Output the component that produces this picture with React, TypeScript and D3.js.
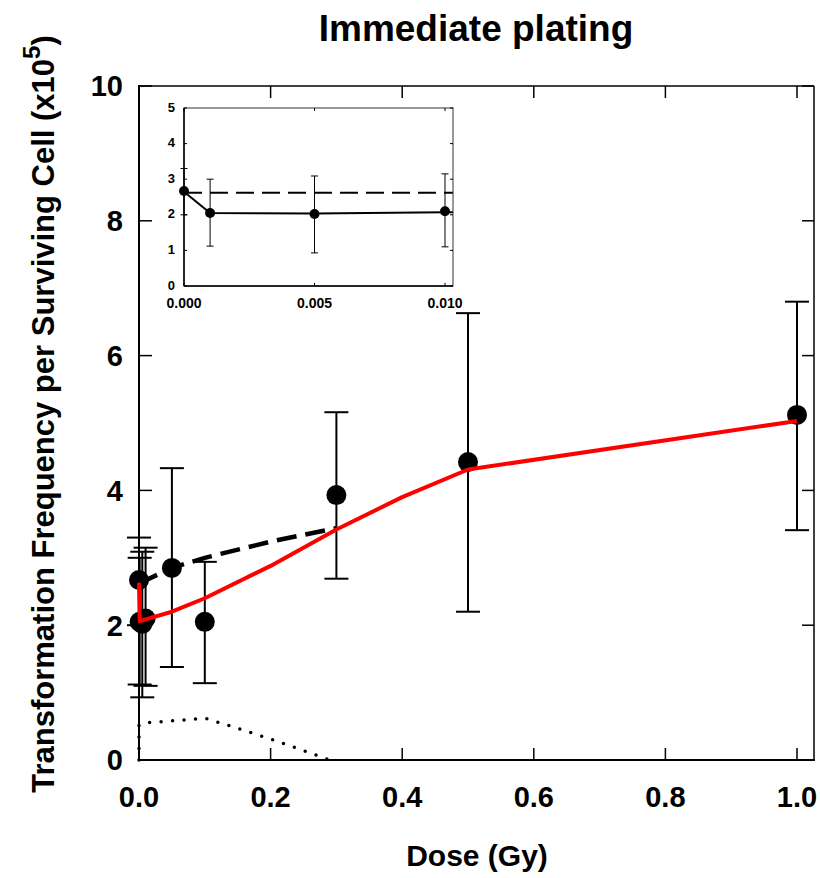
import React from 'react';
import * as d3 from 'd3';

const doses = [0, 0.001, 0.005, 0.01, 0.05, 0.1, 0.3, 0.5, 1.0];
const freq = [2.67, 2.05, 2.02, 2.1, 2.85, 2.05, 3.93, 4.42, 5.12];
const errHi = [3.3, 3.0, 3.09, 3.15, 4.33, 2.94, 5.16, 6.63, 6.8];
const errLo = [2.0, 1.12, 0.93, 1.1, 1.38, 1.14, 2.69, 2.2, 3.41];

const dashedDose = [0, 0.05, 0.1, 0.2, 0.3];
const dashedVal = [2.62, 2.85, 3.0, 3.24, 3.44];

const redDose = [0, 0.001, 0.05, 0.1, 0.2, 0.3, 0.4, 0.5, 1.0];
const redVal = [2.63, 2.06, 2.2, 2.4, 2.88, 3.42, 3.9, 4.31, 5.03];

const dottedDose = [0, 0, 0.01, 0.05, 0.1, 0.15, 0.2, 0.25, 0.29];
const dottedVal = [0, 0.52, 0.55, 0.58, 0.62, 0.47, 0.31, 0.14, 0];

const insetDashedDose = [0, 0.0103];
const insetDashedVal = [2.62, 2.62];
const insetSolidDose = [0, 0.001, 0.005, 0.01, 0.0103];
const insetSolidVal = [2.65, 2.05, 2.04, 2.07, 2.07];

const xTicks = [0, 0.2, 0.4, 0.6, 0.8, 1.0];
const yTicks = [0, 2, 4, 6, 8, 10];
const insetXTicks = [0, 0.005, 0.01];
const insetYTicks = [0, 1, 2, 3, 4, 5];

const FONT = "'Liberation Sans', Arial, Helvetica, sans-serif";

export default function App() {
  const x = d3.scaleLinear().domain([0, 1]).range([139, 797]);
  const xMax = x.invert(814);
  const y = d3.scaleLinear().domain([0, 10]).range([760, 86]);

  const ix = d3.scaleLinear().domain([0, 0.01]).range([184, 445]);
  const ixMax = ix.invert(453);
  const iy = d3.scaleLinear().domain([0, 5]).range([286, 108]);

  const line = (xs: d3.ScaleLinear<number, number>, ys: d3.ScaleLinear<number, number>) =>
    d3.line<[number, number]>().x(d => xs(d[0])).y(d => ys(d[1]));

  const zip = (a: number[], b: number[]) => a.map((v, i) => [v, b[i]] as [number, number]);

  const mainLine = line(x, y);
  const insetLine = line(ix, iy);

  const insetIdx = doses.map((d, i) => i).filter(i => doses[i] <= 0.01);

  return (
    <svg width={820} height={878} style={{ position: 'absolute', left: 0, top: 0, background: '#fff' }}>
      <rect x={0} y={0} width={820} height={878} fill="#fff" />
      {/* title */}
      <text x={476} y={41} textAnchor="middle" fontFamily={FONT} fontWeight="bold" fontSize={37}>Immediate plating</text>

      {/* frame */}
      <line x1={x(0)} x2={x(xMax)} y1={y(10)} y2={y(10)} stroke="#000" strokeWidth={1.5} />
      <line x1={x(xMax)} x2={x(xMax)} y1={y(0)} y2={y(10)} stroke="#000" strokeWidth={1.5} />
      <line x1={x(0)} x2={x(0)} y1={y(0) + 1} y2={y(10) - 1} stroke="#000" strokeWidth={2} />
      <line x1={x(0) - 1} x2={x(xMax) + 1} y1={y(0)} y2={y(0)} stroke="#000" strokeWidth={2} />

      {/* ticks */}
      {xTicks.map(t => (
        <g key={'xt' + t}>
          <line x1={x(t)} x2={x(t)} y1={y(0)} y2={y(0) - 12} stroke="#000" strokeWidth={1.5} />
          <line x1={x(t)} x2={x(t)} y1={y(10)} y2={y(10) + 12} stroke="#000" strokeWidth={1.5} />
          <text x={x(t)} y={807} textAnchor="middle" fontFamily={FONT} fontWeight="bold" fontSize={29}>{d3.format('.1f')(t)}</text>
        </g>
      ))}
      {yTicks.map(t => (
        <g key={'yt' + t}>
          <line x1={x(0)} x2={x(0) + 13} y1={y(t)} y2={y(t)} stroke="#000" strokeWidth={1.5} />
          <line x1={x(xMax)} x2={x(xMax) - 12} y1={y(t)} y2={y(t)} stroke="#000" strokeWidth={1.5} />
          <text x={123} y={y(t)} dy="0.36em" textAnchor="end" fontFamily={FONT} fontWeight="bold" fontSize={29}>{t}</text>
        </g>
      ))}

      {/* axis titles */}
      <text x={477} y={866} textAnchor="middle" fontFamily={FONT} fontWeight="bold" fontSize={30}>Dose (Gy)</text>
      <text transform="translate(54,414) rotate(-90)" textAnchor="middle" fontFamily={FONT} fontWeight="bold" fontSize={31}>
        Transformation Frequency per Surviving Cell (x10<tspan dy={-14} fontSize={24}>5</tspan><tspan dy={14}>)</tspan>
      </text>

      {/* dotted */}
      <path d={mainLine(zip(dottedDose, dottedVal)) || ''} fill="none" stroke="#000" strokeWidth={3.5}
        strokeDasharray="0 11.5" strokeLinecap="round" />

      {/* error bars */}
      {doses.map((d, i) => (
        <g key={'eb' + i}>
          <line x1={x(d)} x2={x(d)} y1={y(errLo[i])} y2={y(errHi[i])} stroke="#000" strokeWidth={2} />
          <line x1={x(d) - 12} x2={x(d) + 12} y1={y(errLo[i])} y2={y(errLo[i])} stroke="#000" strokeWidth={2} />
          <line x1={x(d) - 12} x2={x(d) + 12} y1={y(errHi[i])} y2={y(errHi[i])} stroke="#000" strokeWidth={2} />
        </g>
      ))}

      {/* dashed */}
      <path d={mainLine(zip(dashedDose, dashedVal)) || ''} fill="none" stroke="#000" strokeWidth={4.5}
        strokeDasharray="20 9" />

      {/* points */}
      {doses.map((d, i) => (
        <circle key={'pt' + i} cx={x(d)} cy={y(freq[i])} r={10} fill="#000" />
      ))}

      {/* red */}
      <path d={mainLine(zip(redDose, redVal)) || ''} fill="none" stroke="#ff0000" strokeWidth={4} strokeLinejoin="round" />

      {/* inset */}
      <rect x={ix(0)} y={iy(5)} width={ix(ixMax) - ix(0)} height={iy(0) - iy(5)} fill="#fff" stroke="#555" strokeWidth={1.2} />
      {insetXTicks.map(t => (
        <g key={'ixt' + t}>
          <line x1={ix(t)} x2={ix(t)} y1={iy(0)} y2={iy(0) - 3} stroke="#000" strokeWidth={1} />
          <line x1={ix(t)} x2={ix(t)} y1={iy(5)} y2={iy(5) + 3} stroke="#000" strokeWidth={1} />
          <text x={ix(t)} y={308} textAnchor="middle" fontFamily={FONT} fontWeight="bold" fontSize={14}>{d3.format('.3f')(t)}</text>
        </g>
      ))}
      {insetYTicks.map(t => (
        <g key={'iyt' + t}>
          <line x1={ix(0)} x2={ix(0) + 3} y1={iy(t)} y2={iy(t)} stroke="#000" strokeWidth={1} />
          <line x1={ix(ixMax)} x2={ix(ixMax) - 3} y1={iy(t)} y2={iy(t)} stroke="#000" strokeWidth={1} />
          <text x={175} y={iy(t) - 1} dy="0.36em" textAnchor="end" fontFamily={FONT} fontWeight="bold" fontSize={13}>{t}</text>
        </g>
      ))}
      <line x1={ix(0)} x2={ix(0)} y1={iy(0)} y2={iy(5)} stroke="#000" strokeWidth={1.5} />
      <line x1={ix(0)} x2={ix(ixMax)} y1={iy(0)} y2={iy(0)} stroke="#000" strokeWidth={1.5} />
      {insetIdx.map(i => (
        <g key={'ieb' + i}>
          <line x1={ix(doses[i])} x2={ix(doses[i])} y1={iy(errLo[i])} y2={iy(errHi[i])} stroke="#000" strokeWidth={1} />
          <line x1={ix(doses[i]) - 3.5} x2={ix(doses[i]) + 3.5} y1={iy(errLo[i])} y2={iy(errLo[i])} stroke="#000" strokeWidth={1} />
          <line x1={ix(doses[i]) - 3.5} x2={ix(doses[i]) + 3.5} y1={iy(errHi[i])} y2={iy(errHi[i])} stroke="#000" strokeWidth={1} />
        </g>
      ))}
      <path d={insetLine(zip(insetDashedDose, insetDashedVal)) || ''} fill="none" stroke="#000" strokeWidth={2}
        strokeDasharray="18 8" />
      <path d={insetLine(zip(insetSolidDose, insetSolidVal)) || ''} fill="none" stroke="#000" strokeWidth={2} />
      {insetIdx.map(i => (
        <circle key={'ipt' + i} cx={ix(doses[i])} cy={iy(freq[i])} r={5} fill="#000" />
      ))}
    </svg>
  );
}
